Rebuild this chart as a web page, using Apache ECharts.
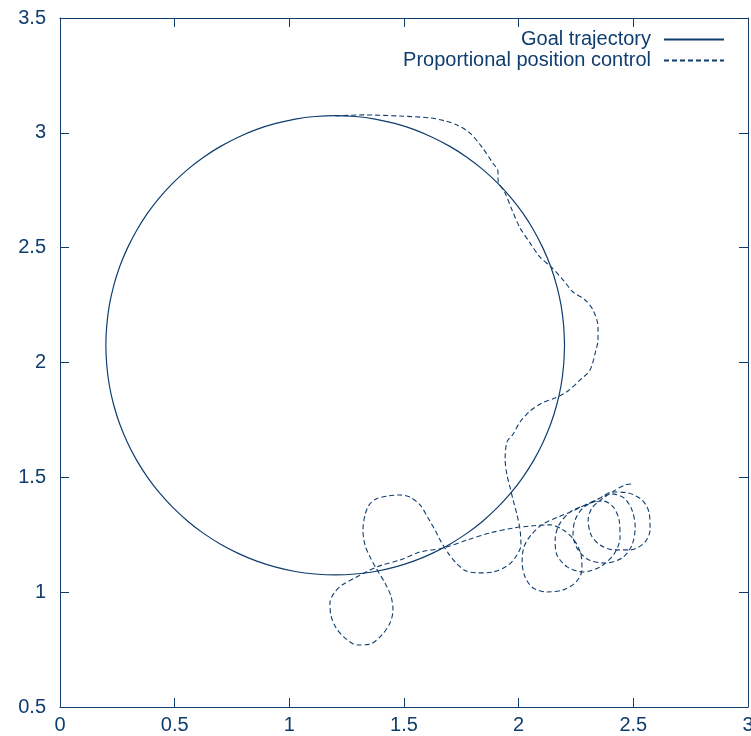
<!DOCTYPE html>
<html>
<head>
<meta charset="utf-8">
<script src="https://cdn.jsdelivr.net/npm/echarts@6/dist/echarts.min.js"></script>
<style>html,body{margin:0;padding:0;background:#fff;overflow:hidden;}#c{width:751px;height:736px;}</style>
</head>
<body>
<div id="c"></div>
<script>
// Tick values
const xTicks = [0, 0.5, 1, 1.5, 2, 2.5, 3];
const yTicks = [0.5, 1, 1.5, 2, 2.5, 3, 3.5];
const seriesNames = ['Goal trajectory', 'Proportional position control'];

// Goal trajectory (circle)
const goalX = [2.2,2.196,2.185,2.166,2.14,2.106,2.066,2.019,1.966,1.907,1.843,1.774,1.7,1.623,1.542,1.459,1.374,1.287,1.2,1.113,1.026,0.941,0.858,0.777,0.7,0.626,0.557,0.493,0.434,0.381,0.334,0.294,0.26,0.234,0.215,0.204,0.2,0.204,0.215,0.234,0.26,0.294,0.334,0.381,0.434,0.493,0.557,0.626,0.7,0.777,0.858,0.941,1.026,1.113,1.2,1.287,1.374,1.459,1.542,1.623,1.7,1.774,1.843,1.907,1.966,2.019,2.066,2.106,2.14,2.166,2.185,2.196,2.2];
const goalY = [2.075,2.162,2.249,2.334,2.417,2.498,2.575,2.649,2.718,2.782,2.841,2.894,2.941,2.981,3.015,3.041,3.06,3.071,3.075,3.071,3.06,3.041,3.015,2.981,2.941,2.894,2.841,2.782,2.718,2.649,2.575,2.498,2.417,2.334,2.249,2.162,2.075,1.988,1.901,1.816,1.733,1.652,1.575,1.501,1.432,1.368,1.309,1.256,1.209,1.169,1.135,1.109,1.09,1.079,1.075,1.079,1.09,1.109,1.135,1.169,1.209,1.256,1.309,1.368,1.432,1.501,1.575,1.652,1.733,1.816,1.901,1.988,2.075];

// Proportional position control (dashed path)
const ctrlX = [1.2,1.321,1.483,1.614,1.679,1.731,1.788,1.84,1.884,1.91,1.91,1.941,1.971,2.006,2.05,2.093,2.146,2.194,2.237,2.29,2.324,2.346,2.346,2.337,2.311,2.268,2.215,2.159,2.102,2.05,2.006,1.976,1.949,1.941,1.949,1.962,1.976,1.993,2.006,2.01,1.984,1.949,1.888,1.823,1.771,1.731,1.692,1.662,1.635,1.605,1.57,1.526,1.483,1.43,1.378,1.348,1.33,1.321,1.33,1.352,1.378,1.417,1.443,1.452,1.439,1.404,1.352,1.295,1.243,1.204,1.182,1.177,1.195,1.23,1.286,1.343,1.404,1.483,1.57,1.67,1.775,1.875,1.976,2.05,2.137,
  2.194,2.242,2.272,2.276,2.25,2.194,2.124,2.063,2.028,2.015,2.023,2.054,2.106,2.172,2.246,2.311,2.368,
  2.412,2.438,2.442,2.416,2.355,2.281,2.211,2.167,2.159,2.176,2.224,2.29,2.355,2.407,
  2.46,2.494,2.508,2.494,2.451,2.377,2.307,2.259,2.237,2.246,2.281,2.342,2.407,
  2.477,2.538,2.569,2.573,2.547,2.486,2.416,2.355,2.316,2.303,2.32,2.364,2.416,2.464,2.499];
const ctrlY = [3.073,3.078,3.073,3.065,3.052,3.034,2.999,2.938,2.873,2.83,2.795,2.738,2.664,2.586,2.52,2.459,2.412,2.359,2.307,2.272,2.229,2.155,2.098,2.054,1.967,1.924,1.876,1.845,1.824,1.789,1.741,1.689,1.654,1.576,1.51,1.458,1.401,1.336,1.271,1.205,1.149,1.114,1.088,1.084,1.092,1.123,1.171,1.219,1.271,1.323,1.38,1.414,1.423,1.419,1.406,1.38,1.336,1.271,1.205,1.153,1.105,1.04,0.983,0.922,0.866,0.814,0.774,0.77,0.8,0.844,0.896,0.953,0.996,1.031,1.062,1.092,1.118,1.14,1.175,1.192,1.227,1.258,1.279,1.288,1.293,
  1.271,1.227,1.162,1.097,1.044,1.01,1.001,1.018,1.066,1.131,1.197,1.249,1.297,1.327,1.358,1.388,1.397,
  1.371,1.314,1.236,1.166,1.11,1.088,1.11,1.162,1.227,1.293,1.349,1.38,1.41,1.428,
  1.41,1.358,1.284,1.205,1.149,1.127,1.14,1.184,1.249,1.314,1.367,1.401,1.436,
  1.432,1.401,1.345,1.271,1.214,1.184,1.184,1.205,1.249,1.314,1.367,1.406,1.441,1.467,1.471];

const NAVY = '#0f3d6e';
const FONT = '"Liberation Sans", Arial, Helvetica, sans-serif';
const zip = (a, b) => a.map((v, i) => [v, b[i]]);

const chart = echarts.init(document.getElementById('c'), null, {renderer: 'canvas'});
const axisCommon = {
  type: 'value',
  axisLine: {show: true, onZero: false, lineStyle: {color: NAVY, width: 1}},
  axisTick: {show: true, inside: true, length: 9, lineStyle: {color: NAVY, width: 1}},
  splitLine: {show: false}
};
chart.setOption({
  animation: false,
  backgroundColor: '#fff',
  grid: {left: 60, top: 18, right: 3, bottom: 29, containLabel: false, outerBoundsMode: 'none'},
  legend: {
    orient: 'vertical', right: 21, top: 24, align: 'right',
    itemWidth: 60, itemHeight: 14, itemGap: 0,
    data: seriesNames,
    itemStyle: {opacity: 0},
    textStyle: {color: NAVY, fontFamily: FONT, fontSize: 20, lineHeight: 21, padding: [0, 8, 0, 0]}
  },
  xAxis: [
    Object.assign({}, axisCommon, {position: 'bottom', min: xTicks[0], max: xTicks[xTicks.length-1], interval: 0.5,
      axisLabel: {color: NAVY, fontFamily: FONT, fontSize: 20, margin: 8, showMaxLabel: true}}),
    Object.assign({}, axisCommon, {position: 'top', min: xTicks[0], max: xTicks[xTicks.length-1], interval: 0.5, axisLabel: {show: false}})
  ],
  yAxis: [
    Object.assign({}, axisCommon, {position: 'left', min: yTicks[0], max: yTicks[yTicks.length-1], interval: 0.5,
      axisLabel: {color: NAVY, fontFamily: FONT, fontSize: 20, margin: 14}}),
    Object.assign({}, axisCommon, {position: 'right', min: yTicks[0], max: yTicks[yTicks.length-1], interval: 0.5, axisLabel: {show: false}})
  ],
  series: [
    {name: seriesNames[0], type: 'line', data: zip(goalX, goalY), smooth: 0.3, showSymbol: false, symbol: 'none', symbolSize: 0,
      lineStyle: {color: NAVY, width: 1.2, type: 'solid'}, itemStyle: {color: NAVY}},
    {name: seriesNames[1], type: 'line', data: zip(ctrlX, ctrlY), smooth: 0.3, showSymbol: false, symbol: 'none', symbolSize: 0,
      lineStyle: {color: NAVY, width: 1.1, type: [5, 3]}, itemStyle: {color: NAVY}}
  ]
});
</script>
</body>
</html>
